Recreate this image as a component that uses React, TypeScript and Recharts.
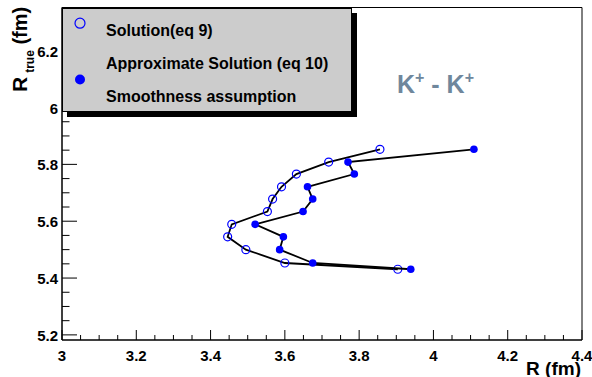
import React from 'react';
import { ScatterChart, Scatter, XAxis, YAxis, ReferenceArea, Legend, Label } from 'recharts';

// Solution (eq 9) - open markers
const solutionR = [3.856, 3.718, 3.631, 3.591, 3.567, 3.553, 3.457, 3.446, 3.495, 3.6, 3.904];
const solutionRtrue = [5.853, 5.808, 5.766, 5.721, 5.678, 5.634, 5.589, 5.545, 5.5, 5.453, 5.431];

// Approximate solution (eq 10) + smoothness assumption - filled markers
const approxR = [4.109, 3.77, 3.787, 3.661, 3.675, 3.649, 3.52, 3.596, 3.586, 3.675, 3.939];
const approxRtrue = [5.853, 5.808, 5.766, 5.721, 5.678, 5.634, 5.589, 5.545, 5.5, 5.453, 5.431];

const xMajorTicks = [3, 3.2, 3.4, 3.6, 3.8, 4, 4.2, 4.4];
const yMajorTicks = [5.2, 5.4, 5.6, 5.8, 6, 6.2];
const legendLabels = ['Solution(eq 9)', 'Approximate Solution (eq 10)', 'Smoothness assumption'];

const X_DOMAIN: [number, number] = [3, 4.4];
const Y_DOMAIN: [number, number] = [5.182, 6.352];

const FONT = 'Liberation Sans, Arial, Helvetica, sans-serif';

// 3 minor ticks between every pair of majors
const withMinors = (majors: number[]) => {
  const out: number[] = [];
  majors.forEach((m, i) => {
    out.push(m);
    if (i < majors.length - 1) {
      const step = (majors[i + 1] - m) / 4;
      for (let k = 1; k < 4; k++) out.push(+(m + k * step).toFixed(3));
    }
  });
  return out;
};

const isMajor = (v: number, majors: number[]) => majors.some(m => Math.abs(m - v) < 1e-6);
const fmt = (v: number) => String(Number(v.toFixed(2)));

const solutionData = solutionR.map((r, i) => ({ x: r, y: solutionRtrue[i] }));
const approxData = approxR.map((r, i) => ({ x: r, y: approxRtrue[i] }));

const XTick = ({ x, y, payload }: any) => {
  const major = isMajor(payload.value, xMajorTicks);
  return (
    <g>
      <line x1={x} y1={y} x2={x} y2={y - (major ? 10 : 5)} stroke="#000" strokeWidth={1} />
      {major && (
        <text x={x} y={y + 20.7} textAnchor="middle" fontFamily={FONT} fontWeight="bold" fontSize={15} fill="#000">
          {fmt(payload.value)}
        </text>
      )}
    </g>
  );
};

const YTick = ({ x, y, payload }: any) => {
  const major = isMajor(payload.value, yMajorTicks);
  return (
    <g>
      <line x1={x} y1={y} x2={x + (major ? 15 : 7.5)} y2={y} stroke="#000" strokeWidth={1} />
      {major && (
        <text x={x - 4} y={y + 6} textAnchor="end" fontFamily={FONT} fontWeight="bold" fontSize={15} fill="#000">
          {fmt(payload.value)}
        </text>
      )}
    </g>
  );
};

const XTitle = ({ viewBox }: any) => (
  <text x={viewBox.x + viewBox.width - 1} y={viewBox.y + 35} textAnchor="end" fontFamily={FONT} fontWeight="bold" fontSize={19} fill="#000">
    R (fm)
  </text>
);

const YTitle = ({ viewBox }: any) => {
  const x = viewBox.x + 27;
  const y = viewBox.y + 84.5;
  return (
    <text x={x} y={y} transform={`rotate(-90, ${x}, ${y})`} fontFamily={FONT} fontWeight="bold" fontSize={21} fill="#000">
      R
      <tspan fontSize={12} dx={4} dy={6.5}>true</tspan>
      <tspan fontSize={20} dy={-6.5}> (fm)</tspan>
    </text>
  );
};

// K+ - K+ annotation, placed relative to the frame
const Annotation = ({ viewBox }: any) => (
  <text x={viewBox.x + 335} y={viewBox.y + 85.5} fontFamily={FONT} fontWeight="bold" fontSize={25} fill="#6f879c">
    K
    <tspan fontSize={16} dy={-10}>+</tspan>
    <tspan fontSize={25} dy={10}> - K</tspan>
    <tspan fontSize={16} dy={-10}>+</tspan>
  </text>
);

const LegendBox = () => (
  <div
    style={{
      width: 290,
      height: 104,
      boxSizing: 'border-box',
      background: '#cccccc',
      border: '1px solid #000',
      boxShadow: '5px 5px 0 #000',
    }}
  >
    <svg width={288} height={102} style={{ display: 'block' }}>
      <circle cx={17} cy={14.2} r={5} fill="none" stroke="#0000ff" strokeWidth={1.2} />
      <circle cx={17} cy={70.5} r={5} fill="#0000ff" />
      {legendLabels.map((t, i) => (
        <text key={t} x={43} y={[26.5, 59.5, 93][i]} fontFamily={FONT} fontWeight="bold" fontSize={16} fill="#000">
          {t}
        </text>
      ))}
    </svg>
  </div>
);

const OpenDot = (p: any) => <circle cx={p.cx} cy={p.cy} r={4} fill="none" stroke="#0000ff" strokeWidth={1.2} />;
const FilledDot = (p: any) => <circle cx={p.cx} cy={p.cy} r={3.8} fill="#0000ff" />;

export default function App() {
  return (
    <div style={{ width: 592, height: 377, position: 'relative', background: '#fff' }}>
      <style>{'body{margin:0}'}</style>
      <ScatterChart width={592} height={377} margin={{ top: 7.5, right: 10, bottom: 0, left: 0 }}>
        <XAxis
          type="number"
          dataKey="x"
          domain={X_DOMAIN}
          ticks={withMinors(xMajorTicks)}
          interval={0}
          tickSize={0}
          tickMargin={0}
          tickLine={false}
          tick={<XTick />}
          axisLine={{ stroke: '#000' }}
          height={37}
          allowDataOverflow
        >
          <Label content={<XTitle />} />
        </XAxis>
        <YAxis
          type="number"
          dataKey="y"
          domain={Y_DOMAIN}
          ticks={withMinors(yMajorTicks)}
          interval={0}
          tickSize={0}
          tickMargin={0}
          tickLine={false}
          tick={<YTick />}
          axisLine={{ stroke: '#000' }}
          width={62}
          allowDataOverflow
        >
          <Label content={<YTitle />} />
        </YAxis>
        <ReferenceArea x1={X_DOMAIN[0]} x2={X_DOMAIN[1]} y1={Y_DOMAIN[0]} y2={Y_DOMAIN[1]} fill="none" stroke="#000" strokeWidth={1}>
          <Label content={<Annotation />} />
        </ReferenceArea>
        <Scatter
          name="Solution(eq 9)"
          data={solutionData}
          line={{ stroke: '#000', strokeWidth: 1.8 }}
          shape={OpenDot}
          isAnimationActive={false}
        />
        <Scatter
          name="Approximate Solution (eq 10)"
          data={approxData}
          line={{ stroke: '#000', strokeWidth: 1.8 }}
          shape={FilledDot}
          isAnimationActive={false}
        />
        <Legend
          layout="vertical"
          align="center"
          verticalAlign="middle"
          wrapperStyle={{ left: 62, top: 7.5, width: 290, height: 104 }}
          content={<LegendBox />}
        />
      </ScatterChart>
    </div>
  );
}
